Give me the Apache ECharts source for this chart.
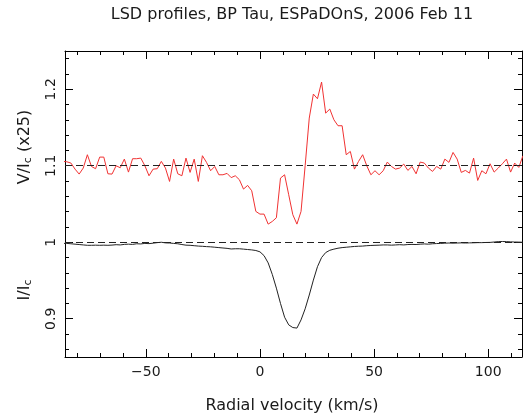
<!DOCTYPE html>
<html><head><meta charset="utf-8">
<script src="https://cdn.jsdelivr.net/npm/echarts@6/dist/echarts.min.js"></script>
<style>html,body{margin:0;padding:0;background:#fff}#c{width:526px;height:417px}</style>
</head><body><div id="c"></div>
<script>
// Radial velocity grid (km/s)
const velocity = [-86.4,-84.6,-82.8,-81.0,-79.2,-77.4,-75.6,-73.8,-72.0,-70.2,-68.4,-66.6,-64.8,-63.0,-61.2,-59.4,-57.6,-55.8,-54.0,-52.2,-50.4,-48.6,-46.8,-45.0,-43.2,-41.4,-39.6,-37.8,-36.0,-34.2,-32.4,-30.6,-28.8,-27.0,-25.2,-23.4,-21.6,-19.8,-18.0,-16.2,-14.4,-12.6,-10.8,-9.0,-7.2,-5.4,-3.6,-1.8,0.0,1.8,3.6,5.4,7.2,9.0,10.8,12.6,14.4,16.2,18.0,19.8,21.6,23.4,25.2,27.0,28.8,30.6,32.4,34.2,36.0,37.8,39.6,41.4,43.2,45.0,46.8,48.6,50.4,52.2,54.0,55.8,57.6,59.4,61.2,63.0,64.8,66.6,68.4,70.2,72.0,73.8,75.6,77.4,79.2,81.0,82.8,84.6,86.4,88.2,90.0,91.8,93.6,95.4,97.2,99.0,100.8,102.6,104.4,106.2,108.0,109.8,111.6,113.4,115.2];
// Stokes V/Ic (x25), shifted by +1.1
const stokesV = [1.1057,1.1052,1.1035,1.0956,1.0891,1.097,1.1144,1.0991,1.0961,1.1113,
1.1113,1.0895,1.0891,1.1,1.0974,1.1087,1.0917,1.1092,1.1092,1.11,
1.1,1.0869,1.0956,1.0961,1.1057,1.097,1.0795,1.1087,1.0895,1.0869,
1.11,1.0913,1.1087,1.0795,1.1131,1.1044,1.0935,1.0991,1.0882,1.0882,
1.09,1.0845,1.0869,1.0817,1.0695,1.0743,1.0673,1.0403,1.0368,1.0368,
1.0237,1.0272,1.032,1.0839,1.0882,1.0621,1.036,1.0237,1.0403,1.1,
1.1623,1.1937,1.1876,1.2094,1.1688,1.1741,1.1601,1.1523,1.1523,1.1144,
1.1187,1.0956,1.1057,1.1144,1.1,1.0882,1.0935,1.0882,1.0935,1.1048,
1.0991,1.0956,1.097,1.1022,1.0939,1.0991,1.0895,1.1048,1.1035,1.097,
1.0926,1.0991,1.0956,1.1087,1.1044,1.1174,1.1087,1.0913,1.0939,1.0904,
1.11,1.0808,1.0935,1.0895,1.1026,1.0917,1.097,1.1026,1.1087,1.0917,
1.1035,1.0978,1.113];
// Stokes I/Ic
const stokesI = [0.9985,0.9985,0.998,0.9975,0.997,0.9965,0.996,0.996,0.9962,0.996,
0.9962,0.996,0.9963,0.9968,0.9965,0.9972,0.9975,0.9972,0.998,0.9978,
0.9985,0.9982,0.9988,0.9995,1.0,0.9992,0.999,0.9985,0.998,0.997,
0.9962,0.996,0.9955,0.995,0.9947,0.9943,0.994,0.9935,0.993,0.9925,
0.992,0.9912,0.9915,0.9915,0.991,0.9905,0.99,0.9892,0.9875,0.9825,
0.973,0.958,0.94,0.92,0.902,0.892,0.8885,0.8878,0.8985,0.913,
0.931,0.9505,0.968,0.98,0.9865,0.9895,0.991,0.9922,0.993,0.9935,
0.994,0.9945,0.9948,0.995,0.9955,0.9958,0.996,0.9962,0.9965,0.9965,
0.9962,0.9965,0.9968,0.9965,0.997,0.9972,0.997,0.9975,0.9978,0.9975,
0.998,0.9983,0.9985,0.9988,0.999,0.9988,0.999,0.9992,0.999,0.9992,
0.9993,0.9995,0.9995,0.9997,0.9998,1.0003,1.0008,1.001,1.0008,1.0005,
1.0003,1.0002,1.0];
const refLevels = [1.1, 1.0];
const xRange = [-85.4, 114.8];
const yRange = [0.85, 1.25];
const xMajorTicks = [-50, 0, 50, 100];
const xMinorTicks = [-80,-70,-60,-50,-40,-30,-20,-10,0,10,20,30,40,50,60,70,80,90,100,110];
const yMajorTicks = [0.9, 1.0, 1.1, 1.2];
const yMinorTicks = [0.86,0.88,0.90,0.92,0.94,0.96,0.98,1.00,1.02,1.04,1.06,1.08,1.10,1.12,1.14,1.16,1.18,1.20,1.22,1.24];
const titleText = 'LSD profiles, BP Tau, ESPaDOnS, 2006 Feb 11';
const xTitle = 'Radial velocity (km/s)';

const FONT = 'DejaVu Sans';
const TXT = '#1a1a1a';

function xAx(pos, ticks, len, showLabel, showLine) {
  return {
    type: 'value', position: pos, min: xRange[0], max: xRange[1],
    axisLine: {show: showLine, onZero: false, lineStyle: {color: '#000', width: 1}},
    axisTick: {show: true, inside: true, length: len, customValues: ticks, lineStyle: {color: '#000', width: 1}},
    axisLabel: {show: showLabel, customValues: ticks, margin: 8, fontFamily: FONT, fontSize: 14, color: TXT,
      formatter: v => (v < 0 ? '\u2212' + Math.abs(v) : String(v))},
    splitLine: {show: false}
  };
}
function yAx(pos, ticks, len, showLabel, showLine) {
  return {
    type: 'value', position: pos, min: yRange[0], max: yRange[1],
    axisLine: {show: showLine, onZero: false, lineStyle: {color: '#000', width: 1}},
    axisTick: {show: true, inside: true, length: len, customValues: ticks, lineStyle: {color: '#000', width: 1}},
    axisLabel: {show: showLabel, customValues: ticks, rotate: 90, margin: 7, fontFamily: FONT, fontSize: 14, color: TXT,
      formatter: v => String(Math.round(v * 10) / 10)},
    splitLine: {show: false}
  };
}

const chart = echarts.init(document.getElementById('c'), null, {renderer: 'canvas'});
chart.setOption({
  animation: false,
  backgroundColor: '#fff',
  grid: {left: 65, top: 51, width: 457, height: 306, containLabel: false},
  xAxis: [
    xAx('bottom', xMajorTicks, 8, true, true),
    xAx('bottom', xMinorTicks, 4, false, false),
    xAx('top', xMajorTicks, 8, false, true),
    xAx('top', xMinorTicks, 4, false, false)
  ],
  yAxis: [
    yAx('left', yMajorTicks, 8, true, true),
    yAx('left', yMinorTicks, 4, false, false),
    yAx('right', yMajorTicks, 8, false, true),
    yAx('right', yMinorTicks, 4, false, false)
  ],
  series: [
    {
      type: 'line', xAxisIndex: 0, yAxisIndex: 0,
      data: [], silent: true,
      markLine: {
        silent: true, symbol: 'none', label: {show: false},
        lineStyle: {type: [7, 4], color: '#222', width: 1},
        data: refLevels.map(y => ({yAxis: y}))
      }
    },
    {
      type: 'line', xAxisIndex: 0, yAxisIndex: 0, clip: true,
      data: velocity.map((v, i) => [v, stokesI[i]]),
      symbol: 'none', lineStyle: {color: '#222', width: 1}
    },
    {
      type: 'line', xAxisIndex: 0, yAxisIndex: 0, clip: true,
      data: velocity.map((v, i) => [v, stokesV[i]]),
      symbol: 'none', lineStyle: {color: '#f03232', width: 1}
    }
  ],
  graphic: [
    {type: 'text', x: 292, y: 15, style: {text: titleText, fontFamily: FONT, fontSize: 16, fill: TXT, align: 'center', verticalAlign: 'middle'}},
    {type: 'text', x: 292, y: 406, style: {text: xTitle, fontFamily: FONT, fontSize: 16, fill: TXT, align: 'center', verticalAlign: 'middle'}},
    {type: 'text', x: 25, y: 147, rotation: Math.PI / 2, style: {
      text: '{m|V/I}{s|c}{m| (x25)}', align: 'center', verticalAlign: 'middle',
      rich: {m: {fontFamily: FONT, fontSize: 16, fill: TXT, lineHeight: 18}, s: {fontFamily: FONT, fontSize: 11, fill: TXT, lineHeight: 6, verticalAlign: 'bottom'}}
    }},
    {type: 'text', x: 25, y: 290, rotation: Math.PI / 2, style: {
      text: '{m|I/I}{s|c}', align: 'center', verticalAlign: 'middle',
      rich: {m: {fontFamily: FONT, fontSize: 16, fill: TXT, lineHeight: 18}, s: {fontFamily: FONT, fontSize: 11, fill: TXT, lineHeight: 6, verticalAlign: 'bottom'}}
    }}
  ]
});
</script>
</body></html>
